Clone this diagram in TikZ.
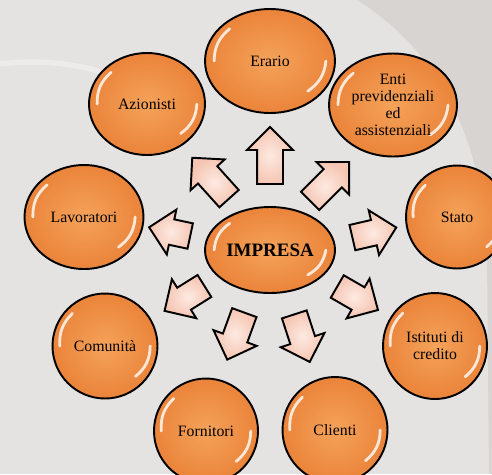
\documentclass[tikz,border=0pt]{standalone}
\usepackage{fontspec}
\setmainfont{Liberation Serif}
\usetikzlibrary{shapes.geometric,shapes.arrows,calc}

\definecolor{bgmain}{RGB}{228,227,225}
\definecolor{bgdark}{RGB}{215,212,209}
\definecolor{orin}{RGB}{245,162,90}
\definecolor{orout}{RGB}{234,132,58}
\definecolor{pinkin}{RGB}{253,234,226}
\definecolor{pinkout}{RGB}{245,197,178}

\begin{document}
\begin{tikzpicture}[x=0.02cm, y=-0.02cm,
    glare/.style={path picture={
        \draw[white, opacity=.8, line width=1.6pt, line cap=round]
          ($(path picture bounding box.center)!.62!(path picture bounding box.north west)$)
            to[bend right=25] ($(path picture bounding box.center)!.86!(path picture bounding box.west)$)
          ($(path picture bounding box.center)!.58!(path picture bounding box.south east)$)
            to[bend right=25] ($(path picture bounding box.center)!.86!(path picture bounding box.east)$);}},
    bubble/.style={ellipse, draw=black, line width=1.1pt, inner sep=0pt,
        inner color=orin, outer color=orout, align=center,
        font=\fontsize{9}{9.6}\selectfont, glare},
    push/.style={single arrow, draw=black, line width=1.1pt, inner xsep=0pt,
        inner ysep=0.24cm, single arrow head extend=0.2cm,
        inner color=pinkin, outer color=pinkout}
  ]
    \useasboundingbox (0,0) rectangle (492,474);
    \fill[bgmain] (0,0) rectangle (492,474);
    \fill[bgdark] (357,0) .. controls (430,45) and (485,130) .. (487,260) -- (489,474) -- (492,474) -- (492,0) -- cycle;
    \draw[white, opacity=.35, line width=3pt] (0,64) .. controls (50,58) and (100,66) .. (140,88);

    \node (I0)[bubble, minimum width=2.6cm, minimum height=1.72cm, font=\fontsize{10.8}{12}\bfseries] at (270,250) {IMPRESA};

    \node (S1)[bubble, minimum width=2.6cm, minimum height=2.08cm] at (270,61) {Erario};
    \node (S2)[bubble, minimum width=2.56cm, minimum height=2.06cm] at (393,105) {Enti\\ previdenziali\\ ed\\ assistenziali};
    \node (S3)[bubble, minimum width=2.04cm, minimum height=2.06cm] at (457,217) {Stato};
    \node (S4)[bubble, minimum width=2.08cm, minimum height=2.12cm] at (435,346) {Istituti di\\ credito};
    \node (S5)[bubble, minimum width=2.1cm, minimum height=2.12cm] at (335,430) {Clienti};
    \node (S6)[bubble, minimum width=2.08cm, minimum height=2.1cm] at (206,431) {Fornitori};
    \node (S7)[bubble, minimum width=2.1cm, minimum height=2.1cm] at (105,346) {Comunità};
    \node (S8)[bubble, minimum width=2.38cm, minimum height=2.08cm] at (84,217) {Lavoratori};
    \node (S9)[bubble, minimum width=2.32cm, minimum height=2.04cm] at (147,104) {Azionisti};

    \node (A1)[push, minimum height=1.14cm, rotate=90] at (270,162) {};
    \node (A2)[push, minimum height=1.1cm, rotate=45] at (325,186) {};
    \node (A3)[push, minimum height=0.9cm, rotate=13] at (368,234) {};
    \node (A4)[push, minimum height=0.94cm, rotate=-30] at (352,295) {};
    \node (A5)[push, minimum height=1cm, rotate=-72] at (300,332) {};
    \node (A6)[push, minimum height=1cm, rotate=250] at (238,330) {};
    \node (A7)[push, minimum height=0.94cm, rotate=212] at (190,295) {};
    \node (A8)[push, minimum height=0.84cm, rotate=168] at (176,233) {};
    \node (A9)[push, minimum height=1.1cm, rotate=132] at (215,183) {};
\end{tikzpicture}
\end{document}
